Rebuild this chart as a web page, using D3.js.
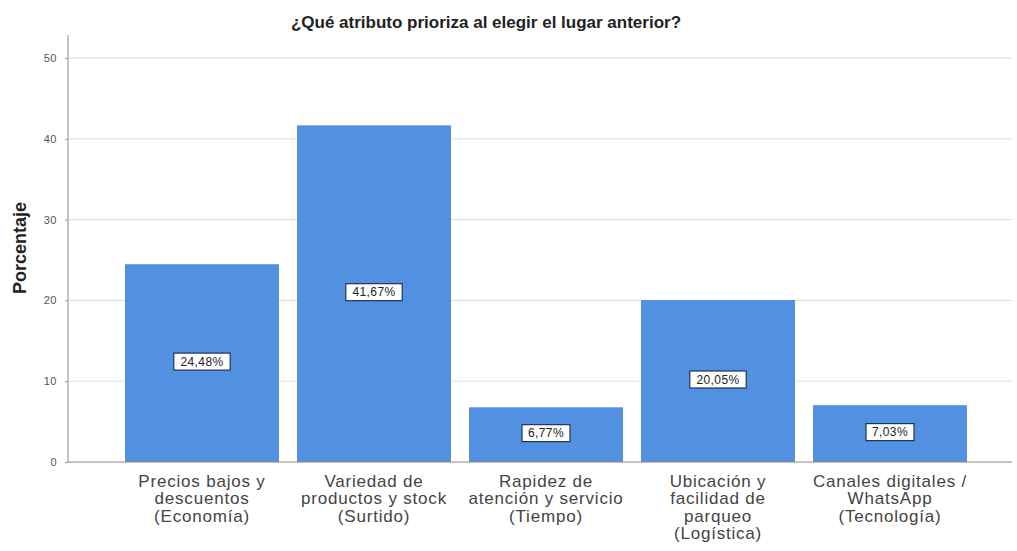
<!DOCTYPE html>
<html>
<head>
<meta charset="utf-8">
<script src="https://cdn.jsdelivr.net/npm/d3@7"></script>
<style>
  body { margin: 0; background: #fff; }
  svg { font-family: "Liberation Sans", Arial, sans-serif; }
</style>
</head>
<body>
<div id="chart"></div>
<script>
// data
const categories = [
    ["Precios bajos y", "descuentos", "(Economía)"],
    ["Variedad de", "productos y stock", "(Surtido)"],
    ["Rapidez de", "atención y servicio", "(Tiempo)"],
    ["Ubicación y", "facilidad de", "parqueo", "(Logística)"],
    ["Canales digitales /", "WhatsApp", "(Tecnología)"]
];
const values = [24.48, 41.67, 6.77, 20.05, 7.03];
const valueLabels = ["24,48%", "41,67%", "6,77%", "20,05%", "7,03%"];
const yTicks = [0, 10, 20, 30, 40, 50];

const width = 1017, height = 551;
const plotLeft = 68, plotRight = 1012, plotTop = 35, plotBottom = 462;

const svg = d3.select("#chart").append("svg")
    .attr("width", width)
    .attr("height", height);

const x = d3.scaleBand()
    .domain(d3.range(values.length))
    .range([116, 976])
    .paddingInner(0.105)
    .paddingOuter(0.0525);

const y = d3.scaleLinear()
    .domain([0, 52.85])
    .range([plotBottom, plotTop]);

// gridlines
svg.append("g")
    .selectAll("line")
    .data(yTicks.filter(d => d > 0))
    .enter().append("line")
    .attr("x1", plotLeft).attr("x2", plotRight)
    .attr("y1", d => y(d)).attr("y2", d => y(d))
    .attr("stroke", "#dcdcdc")
    .attr("stroke-width", 1);

// bars
svg.append("g")
    .selectAll("rect")
    .data(values)
    .enter().append("rect")
    .attr("x", (d, i) => x(i))
    .attr("y", d => y(d))
    .attr("width", x.bandwidth())
    .attr("height", d => plotBottom - y(d))
    .attr("fill", "#5290e2");

// y axis
const yAxis = d3.axisLeft(y)
    .tickValues(yTicks)
    .tickSize(3)
    .tickPadding(8)
    .tickFormat(d3.format("d"));

const yg = svg.append("g")
    .attr("transform", "translate(" + plotLeft + ",0)")
    .call(yAxis);
yg.select(".domain").remove();
yg.selectAll(".tick line").attr("stroke", "#999");
yg.selectAll(".tick text")
    .attr("font-size", 11)
    .attr("fill", "#555")
    .style("letter-spacing", "0.5px")
    .style("font-family", "'Liberation Sans', Arial, sans-serif");

// axis lines
svg.append("line")
    .attr("x1", plotLeft).attr("x2", plotLeft)
    .attr("y1", plotTop).attr("y2", plotBottom)
    .attr("stroke", "#888");
svg.append("line")
    .attr("x1", plotLeft).attr("x2", plotRight)
    .attr("y1", plotBottom).attr("y2", plotBottom)
    .attr("stroke", "#888");

// value labels
const lab = svg.append("g")
    .selectAll("g")
    .data(values)
    .enter().append("g")
    .attr("transform", (d, i) => "translate(" + (x(i) + x.bandwidth() / 2) + "," + (y(d / 2) - 1.5) + ")");

lab.append("rect")
    .attr("x", (d, i) => -(valueLabels[i].length * 4.2 + 3))
    .attr("y", -8.5)
    .attr("width", (d, i) => valueLabels[i].length * 8.4 + 6)
    .attr("height", 17)
    .attr("fill", "#fff")
    .attr("stroke", "#1f3558")
    .attr("stroke-width", 1.2);

lab.append("text")
    .attr("text-anchor", "middle")
    .attr("dy", "0.36em")
    .attr("font-size", 12)
    .attr("fill", "#222")
    .style("letter-spacing", "0.4px")
    .text((d, i) => valueLabels[i]);

// category labels
const cat = svg.append("g")
    .selectAll("text")
    .data(categories)
    .enter().append("text")
    .attr("text-anchor", "middle")
    .attr("font-size", 17)
    .attr("fill", "#444")
    .style("letter-spacing", "0.8px")
    .attr("transform", (d, i) => "translate(" + (x(i) + x.bandwidth() / 2) + ",487)");

cat.selectAll("tspan")
    .data(d => d)
    .enter().append("tspan")
    .attr("x", 0)
    .attr("y", (d, j) => j * 17.3)
    .text(d => d);

// title
svg.append("text")
    .attr("x", 486)
    .attr("y", 28)
    .attr("text-anchor", "middle")
    .attr("font-size", 17)
    .attr("font-weight", "bold")
    .attr("fill", "#222")
    .text("¿Qué atributo prioriza al elegir el lugar anterior?");

// y axis title
svg.append("text")
    .attr("transform", "translate(26,248) rotate(-90)")
    .attr("text-anchor", "middle")
    .attr("font-size", 18)
    .attr("font-weight", "bold")
    .attr("fill", "#222")
    .text("Porcentaje");
</script>
</body>
</html>
